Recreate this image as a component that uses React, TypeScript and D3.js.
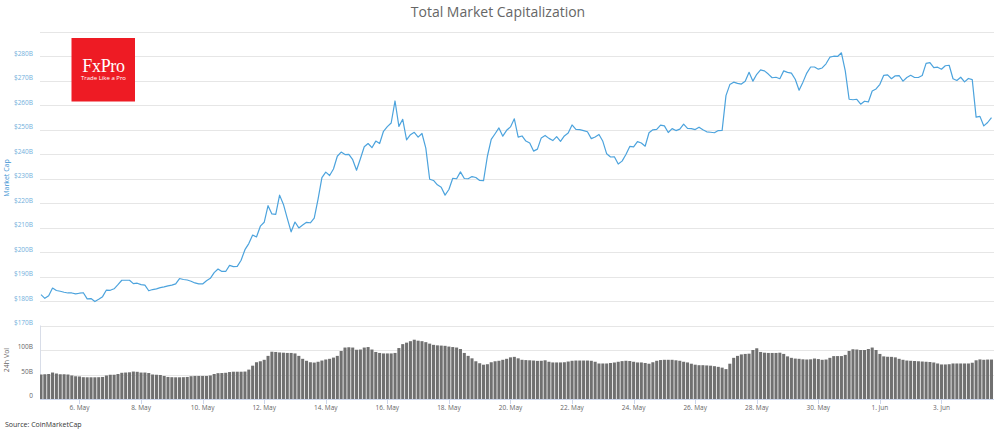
import React from "react";
import * as d3 from "d3";

// 3-hourly samples starting 4 May 2019 18:00 UTC
const START = Date.UTC(2019, 4, 4, 18);
const STEP_HOURS = 3;

// Total market capitalization, $B
const marketCap = [
  182.6,181.1,182.2,185.3,184.3,184.0,183.6,183.3,183.3,182.9,
  183.2,183.4,180.9,181.0,179.8,180.7,181.8,184.5,184.4,185.0,
  186.7,188.5,188.5,188.5,187.1,187.3,186.7,186.5,184.2,184.7,
  185.0,185.5,185.8,186.2,186.5,187.0,189.2,188.8,188.6,188.1,
  187.4,187.0,187.0,188.3,189.3,191.6,193.1,192.1,192.1,194.6,
  194.1,194.2,196.7,201.0,203.5,207.0,206.2,210.6,212.2,219.0,
  215.6,215.4,223.3,219.5,213.8,208.3,212.3,209.9,211.1,212.2,
  212.0,213.9,221.7,230.5,232.7,231.3,234.0,239.2,240.9,239.9,
  240.0,237.8,233.5,238.2,243.1,244.4,242.7,245.4,244.4,249.4,
  251.3,252.8,261.8,251.4,254.3,245.9,248.0,249.0,247.0,248.5,
  242.5,229.8,229.3,227.5,226.5,223.3,225.6,230.2,230.0,232.8,
  230.1,230.0,230.9,230.5,229.3,229.2,239.2,246.1,248.4,250.8,
  247.4,249.8,251.2,254.5,247.0,247.5,245.4,244.6,241.3,242.1,
  246.7,247.7,246.5,245.6,247.2,245.3,247.5,248.7,252.0,250.2,
  250.1,249.7,249.2,246.4,247.1,248.1,245.3,240.2,238.9,239.0,
  236.0,237.2,239.9,243.2,243.0,245.2,244.6,243.3,248.8,250.0,
  250.2,251.9,251.6,248.9,250.5,249.7,250.3,252.3,250.6,250.5,
  250.1,251.1,250.0,249.2,249.0,248.8,249.7,249.8,264.0,268.5,
  269.5,269.0,268.7,269.9,273.5,269.9,272.7,274.5,274.1,272.8,
  271.3,271.5,270.9,274.1,273.5,273.2,270.7,266.2,269.5,273.2,
  275.7,275.7,274.8,275.3,277.0,279.7,280.1,280.0,281.5,274.1,
  262.5,262.3,262.5,260.5,261.7,261.4,265.9,266.7,268.6,272.3,
  272.5,270.9,272.1,272.2,269.9,271.4,272.3,271.4,271.4,272.2,
  277.2,277.5,275.4,275.6,274.8,276.2,276.4,270.9,270.2,271.5,
  269.6,271.0,270.5,255.2,255.5,251.6,253.0,255.0,
];

// 24h volume, $B
const volume24h = [
  50,50.5,51,54,52,50.5,50.5,50,48,46.4,
  46,44.5,44.3,44.3,44.3,44.5,45,48,49.5,49.5,
  51,53.5,54,54.5,56,55.5,54,54,53,50,
  49.5,49,47,45,44.5,44.3,44.3,44.5,45,46.5,
  47,47,47,47,48,51,52.7,53,53.5,55,
  55.7,55.7,55.7,56,60,68,75,77,80,88,
  96.5,96,95,94.5,94,94,93,88,82,78,
  75,74.3,76,78.5,80.6,82,84.5,88,98,105,
  105.6,105,100.5,101,105,106,101,96,94,93,
  93,93,94,104,112,115,118,121,119,118,
  116,113,110.5,109.5,109,108.5,107,106,105,102,
  94,88,83,77,73,70,71,75,77,78,
  80,82,85,86,83,80,79.4,79,78.5,77.8,
  78,79,76,74.6,74.6,74.6,75,76.5,78,78.5,
  78.5,78.5,78.5,78,76,72.5,72.5,72.5,73.5,74.5,
  76,77.3,78,77.5,76,74.6,74.6,73.5,72,75,
  78,79.5,80,80,80,79,78,76,74.6,72,
  70,69,69,68.5,68,67,65.6,64,61,72,
  84,88,91,92,92.5,100,103.5,96,94.5,94,
  94,94,94.5,92,87,84,82.5,82,81,80.6,
  81,82.6,81.5,80,80.6,84,87.5,87.6,87.6,90,
  98,101.5,101,100,100,102,105,100,92,87,
  86.2,86,85,82,80,78.5,78,77.5,77,76.5,
  76,75.5,74.5,72.5,70.5,70.5,71,72.5,72.5,72.5,
  72.5,72.5,74,79,80.8,80,80.5,80.5,
];

const capGrid = [170, 180, 190, 200, 210, 220, 230, 240, 250, 260, 270, 280, 290];
const capTickLabels = ["$170B","$180B","$190B","$200B","$210B","$220B","$230B","$240B","$250B","$260B","$270B","$280B"];
const volTicks = [0, 50, 100];
const volTickLabels = ["0", "50B", "100B"];

const FONT = "'Open Sans', 'DejaVu Sans', sans-serif";

export default function App() {
  const W = 1000, H = 432;
  const plotL = 40, plotR = 994;
  const dates = marketCap.map((_, i) => new Date(START + i * STEP_HOURS * 3600e3));
  const x = d3.scaleUtc().domain([dates[0], dates[dates.length - 1]]).range([41, 991.5]);
  const y = d3.scaleLinear().domain([170, 290]).range([325.5, 32]);
  const yv = d3.scaleLinear().domain([0, 150]).range([399, 325.5]);
  const line = d3.line<number>().x((_, i) => x(dates[i])).y((d) => y(d));
  const xTicks = d3.utcDay.range(new Date(Date.UTC(2019, 4, 6)), new Date(Date.UTC(2019, 5, 5)), 2);
  const fmt = d3.utcFormat("%-d. %b");
  const bw = x(dates[1]) - x(dates[0]);

  return (
    <svg width={W} height={H} style={{ position: "absolute", left: 0, top: 0, background: "#fff" }}
      fontFamily={FONT}>
      <defs>
        <clipPath id="plotclip">
          <rect x={plotL} y={20} width={plotR - plotL} height={380} />
        </clipPath>
      </defs>
      <text x={498} y={16.5} textAnchor="middle" fontSize={14} fill="#666">Total Market Capitalization</text>

      {/* main pane gridlines */}
      {capGrid.map((v) => (
        <line key={"g" + v} x1={plotL} x2={plotR} y1={Math.round(y(v)) + 0.5} y2={Math.round(y(v)) + 0.5}
          stroke="#e6e6e6" strokeWidth={1} />
      ))}
      {capTickLabels.map((lab, i) => (
        <text key={lab} x={33} y={y(capGrid[i]) - 0.5} textAnchor="end" fontSize={6.5} fill="#72afdc">{lab}</text>
      ))}
      <text transform={`translate(8.5,178) rotate(-90)`} textAnchor="middle" fontSize={7} fill="#3b93d3">Market Cap</text>

      {/* volume pane */}
      {volTicks.map((v) => (
        <line key={"vg" + v} x1={plotL} x2={plotR} y1={Math.round(yv(v)) + 0.5} y2={Math.round(yv(v)) + 0.5}
          stroke="#e6e6e6" strokeWidth={1} />
      ))}
      <line x1={plotL + 0.5} x2={plotL + 0.5} y1={325.5} y2={399.5} stroke="#d8dde8" />
      {volTickLabels.map((lab, i) => (
        <text key={lab} x={33} y={yv(volTicks[i]) - 1} textAnchor="end" fontSize={6.5} fill="#666">{lab}</text>
      ))}
      <text transform={`translate(9,360) rotate(-90)`} textAnchor="middle" fontSize={7} fill="#666">24h Vol</text>

      <g clipPath="url(#plotclip)">
        {volume24h.map((v, i) => (
          <rect key={"b" + i} x={x(dates[i]) - bw / 2 + 0.4} y={yv(v)} width={bw - 0.8} height={yv(0) - yv(v)}
            fill="#707070" />
        ))}
        <path d={line(marketCap) || ""} fill="none" stroke="#4ca3dd" strokeWidth={1.2} strokeLinejoin="round" />
      </g>

      {/* x axis */}
      <line x1={plotL} x2={plotR} y1={399.5} y2={399.5} stroke="#ccd6eb" />
      {xTicks.map((d) => (
        <g key={d.toISOString()}>
          <line x1={Math.round(x(d)) + 0.5} x2={Math.round(x(d)) + 0.5} y1={399} y2={404} stroke="#ccd6eb" />
          <text x={x(d)} y={409.5} textAnchor="middle" fontSize={6.5} fill="#666">{fmt(d)}</text>
        </g>
      ))}

      {/* logo */}
      <rect x={71.5} y={38} width={63.5} height={63.5} fill="#ee1b24" />
      <text x={103.5} y={71.5} textAnchor="middle" fontSize={18} fill="#fff"
        fontFamily="'Liberation Serif', 'DejaVu Serif', serif" letterSpacing={-0.3}>FxPro</text>
      <text x={103.5} y={80.3} textAnchor="middle" fontSize={6} fill="#fff">Trade Like a Pro</text>

      <text x={5} y={427} fontSize={7} fill="#333">Source: CoinMarketCap</text>
    </svg>
  );
}
